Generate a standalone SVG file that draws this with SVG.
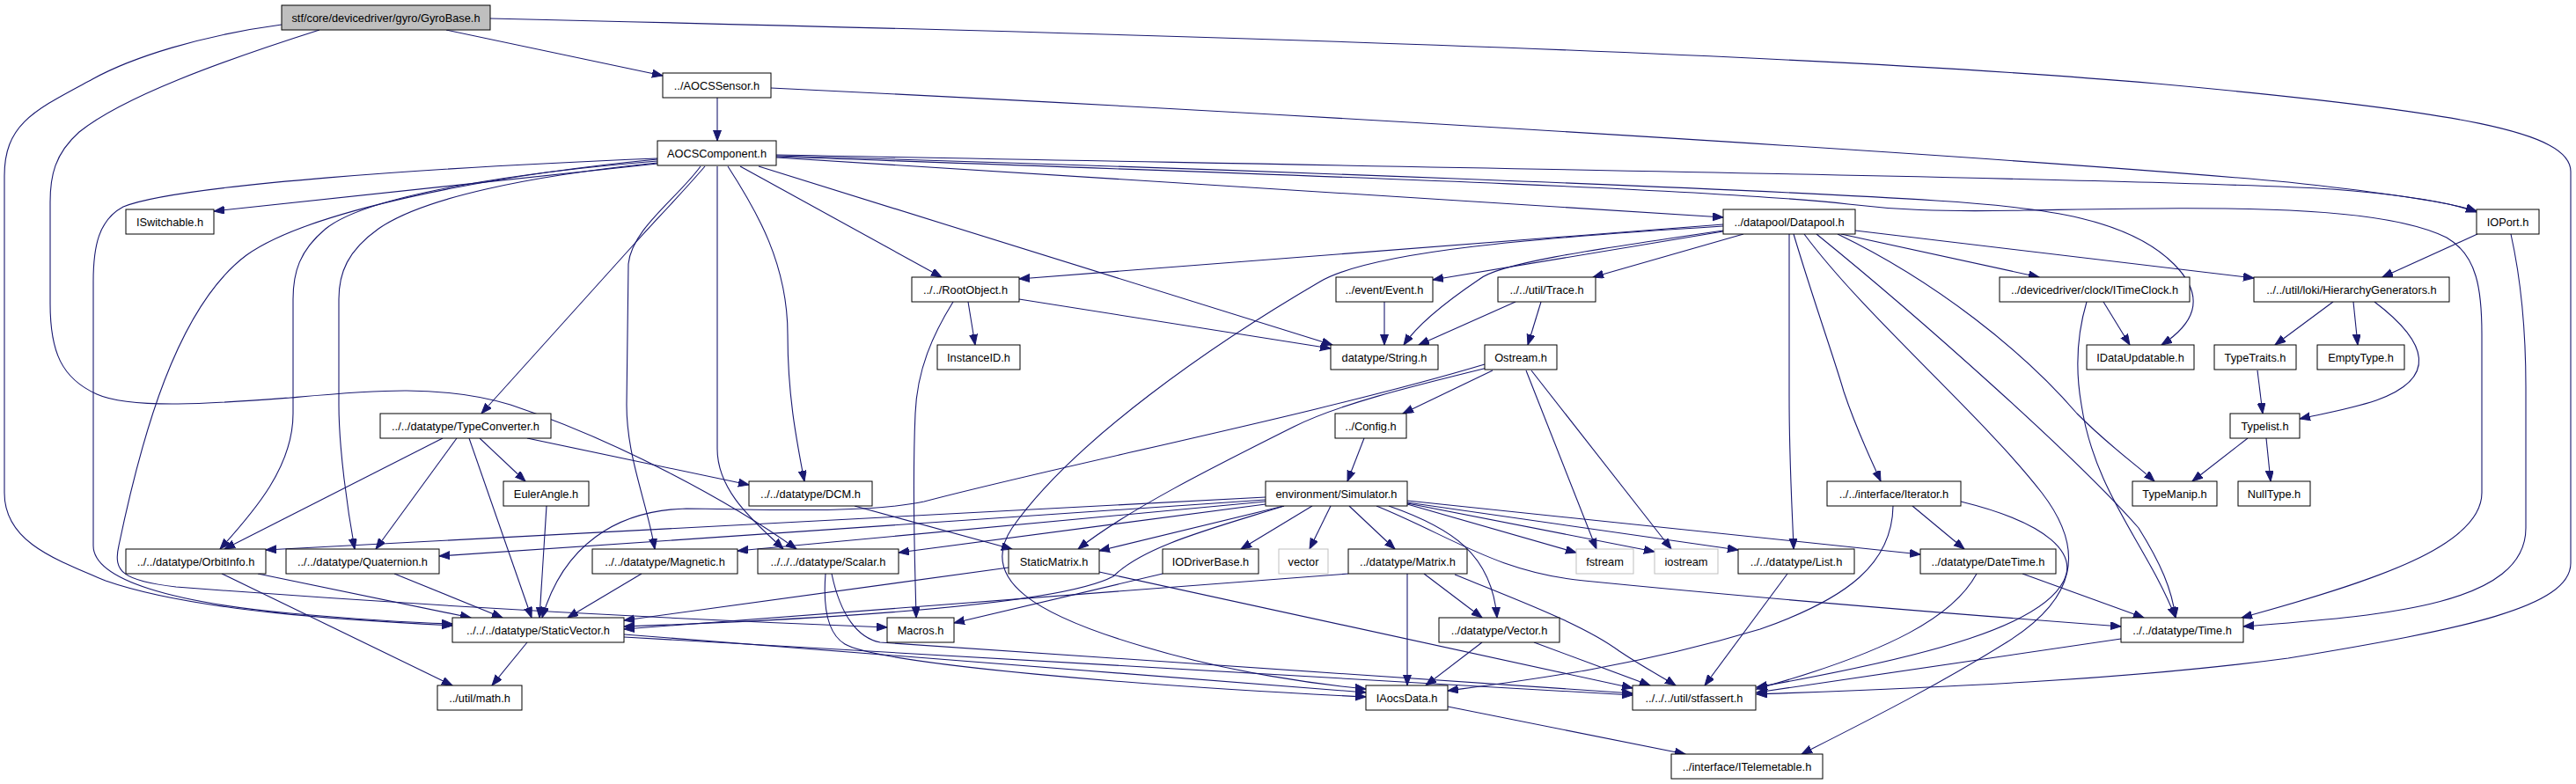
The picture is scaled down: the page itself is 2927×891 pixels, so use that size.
<svg xmlns="http://www.w3.org/2000/svg" width="2927" height="891" viewBox="0 0 2927 891">
<style>
.n{fill:#fff;stroke:#000;stroke-width:1}
.root{fill:#bfbfbf;stroke:#000;stroke-width:1}
.sys{fill:#fff;stroke:#bfbfbf;stroke-width:1}
text{font-family:"Liberation Sans",Arial,sans-serif;font-size:12.8px;fill:#000;text-anchor:middle}
#edges path{fill:none;stroke:#191970;stroke-width:1.1;marker-end:url(#a)}
</style>
<defs>
<marker id="a" markerWidth="14" markerHeight="10" refX="12" refY="4.5" orient="auto" markerUnits="userSpaceOnUse"><path d="M0,0 L12,4.5 L0,9 z" fill="#191970" stroke="#191970" stroke-width="1"/></marker>
</defs>
<rect width="2927" height="891" fill="#fff"/>
<g id="edges">
<path d="M507,34 L753,86"/>
<path d="M557,21 C1300,38 2050,60 2450,95 C2800,127 2921,150 2921,195 L2921,640 C2921,690 2800,715 2600,748 C2400,775 2150,783 1996,789"/>
<path d="M320,28 C230,40 150,65 105,90 C40,125 5,140 5,200 L5,560 C5,615 60,635 120,660 C220,695 400,705 514,711"/>
<path d="M363,34 C250,70 140,110 90,150 C62,175 57,200 57,230 L57,345 C57,400 70,430 110,448 C150,466 250,458 330,452 C420,444 500,436 580,460 C700,500 830,570 905,624"/>
<path d="M815,111 L815,160"/>
<path d="M876,100 C1500,130 2300,180 2600,207 C2720,220 2790,232 2814,240"/>
<path d="M882,179 L1958,247"/>
<path d="M882,176 C1500,188 2450,203 2650,215 C2740,222 2790,232 2814,241"/>
<path d="M882,177 C1400,192 2000,215 2200,228 C2330,236 2420,250 2470,300 C2510,340 2490,370 2456,392"/>
<path d="M882,178 C1500,200 1950,215 2100,232 C2150,238 2200,241 2300,239 C2500,236 2700,230 2780,270 C2815,290 2820,330 2820,380 L2820,560 C2820,620 2700,660 2547,702"/>
<path d="M747,186 L243,240"/>
<path d="M747,180 C500,190 200,210 140,235 C112,250 106,280 106,320 L106,620 C106,660 200,685 330,697 C420,705 480,708 514,709"/>
<path d="M747,181 C550,200 350,240 280,290 C200,350 160,500 135,620 C128,650 140,660 200,667 C500,690 800,705 1008,713"/>
<path d="M747,183 C600,195 420,220 370,260 C340,285 333,310 333,340 L333,470 C333,530 290,580 250,624"/>
<path d="M747,185 C600,200 480,225 430,260 C395,285 385,310 385,340 L385,460 C385,510 395,580 403,624"/>
<path d="M801,189 C770,225 745,250 720,278 L547,470"/>
<path d="M796,189 C770,225 718,260 714,300 L712,460 C712,520 735,570 744,624"/>
<path d="M815,189 L815,510 C815,560 860,595 890,624"/>
<path d="M827,189 C860,240 895,300 895,380 C895,450 905,500 914,547"/>
<path d="M841,189 L1070,315"/>
<path d="M862,189 L1514,392"/>
<path d="M1158,340 L1512,396"/>
<path d="M1100,343 L1108,392"/>
<path d="M1083,343 C1060,380 1042,420 1040,470 C1036,560 1040,650 1041,702"/>
<path d="M1958,255 L1158,317"/>
<path d="M1958,257 C1750,270 1560,285 1500,320 C1380,390 1220,500 1150,600 C1110,660 1180,700 1300,735 C1400,765 1500,778 1552,783"/>
<path d="M1958,262 C1800,285 1700,300 1680,318 C1640,345 1610,370 1595,392"/>
<path d="M1958,263 L1628,318"/>
<path d="M1981,266 L1810,315"/>
<path d="M2033,266 L2033,450 C2033,530 2037,590 2038,624"/>
<path d="M2038,266 C2060,340 2085,410 2095,445 C2110,490 2125,520 2137,547"/>
<path d="M2050,266 C2120,360 2250,470 2320,560 C2370,625 2360,680 2280,730 C2200,780 2120,820 2047,857"/>
<path d="M2064,266 C2180,360 2360,520 2430,600 C2455,640 2468,670 2472,702"/>
<path d="M2088,266 C2200,320 2300,400 2360,470 C2400,510 2430,530 2448,547"/>
<path d="M2092,266 L2317,315"/>
<path d="M2108,262 L2561,316"/>
<path d="M1573,343 L1573,392"/>
<path d="M1722,343 L1612,392"/>
<path d="M1751,343 L1736,392"/>
<path d="M1696,421 L1594,470"/>
<path d="M1734,421 L1814,624"/>
<path d="M1740,421 L1899,624"/>
<path d="M1690,418 C1600,440 1520,460 1470,485 C1380,530 1280,580 1225,624"/>
<path d="M1687,414 C1500,470 1200,530 1050,570 C980,585 850,578 780,578 C700,580 640,620 616,702"/>
<path d="M1550,498 L1531,547"/>
<path d="M1438,565 L302,625"/>
<path d="M1438,568 L499,632"/>
<path d="M1438,570 L838,626"/>
<path d="M1438,573 L1021,628"/>
<path d="M1459,575 L1249,626"/>
<path d="M1459,575 C1380,600 1300,620 1265,655 C1200,690 900,705 709,712"/>
<path d="M1491,575 L1410,624"/>
<path d="M1512,575 L1488,624"/>
<path d="M1533,575 L1585,624"/>
<path d="M1564,575 C1650,610 1700,650 1800,660 C2000,680 2250,700 2410,712"/>
<path d="M1578,575 C1650,600 1695,630 1701,702"/>
<path d="M1599,573 L1791,628"/>
<path d="M1599,572 L1880,627"/>
<path d="M1599,571 L1975,625"/>
<path d="M1599,569 L2182,630"/>
<path d="M503,498 L255,624"/>
<path d="M519,498 L427,624"/>
<path d="M533,498 L604,702"/>
<path d="M545,498 L597,547"/>
<path d="M599,498 L851,551"/>
<path d="M621,575 L613,702"/>
<path d="M971,575 L1150,624"/>
<path d="M293,652 L535,702"/>
<path d="M252,652 L514,779"/>
<path d="M448,652 L571,702"/>
<path d="M729,652 L645,702"/>
<path d="M599,730 L559,779"/>
<path d="M709,721 L1552,787"/>
<path d="M709,724 L1855,790"/>
<path d="M1146,645 L709,705"/>
<path d="M1249,650 L1855,782"/>
<path d="M938,652 C935,690 940,720 960,732 C1000,755 1300,780 1552,792"/>
<path d="M945,652 C955,700 975,725 1000,730 C1300,752 1600,772 1855,788"/>
<path d="M1321,652 L1084,708"/>
<path d="M1532,652 L709,715"/>
<path d="M1599,652 L1599,779"/>
<path d="M1618,652 L1684,702"/>
<path d="M1653,653 C1720,680 1800,710 1840,740 C1870,760 1890,770 1904,779"/>
<path d="M1684,730 L1620,779"/>
<path d="M1743,730 L1875,779"/>
<path d="M1645,803 L1915,857"/>
<path d="M2031,652 L1937,779"/>
<path d="M2173,575 L2232,624"/>
<path d="M2151,575 C2150,640 2100,680 2000,715 C1850,760 1720,775 1645,785"/>
<path d="M2228,570 C2330,595 2360,630 2345,660 C2320,710 2200,745 1996,781"/>
<path d="M2298,652 L2436,702"/>
<path d="M2246,652 C2220,700 2150,740 1996,783"/>
<path d="M2410,726 L1996,787"/>
<path d="M2390,343 L2420,392"/>
<path d="M2371,343 C2360,380 2358,420 2365,460 C2380,560 2440,620 2472,702"/>
<path d="M2815,266 L2707,315"/>
<path d="M2853,266 C2865,320 2870,380 2870,440 L2870,600 C2870,690 2700,700 2549,712"/>
<path d="M2651,343 L2585,392"/>
<path d="M2674,343 L2679,392"/>
<path d="M2698,343 C2760,390 2770,430 2700,455 C2670,465 2640,470 2613,476"/>
<path d="M2565,421 L2571,470"/>
<path d="M2554,498 L2491,547"/>
<path d="M2575,498 L2580,547"/>
</g>
<g id="n_GyroBase"><rect class="root" x="320" y="6" width="237" height="28"/><text x="438.5" y="24.5">stf/core/devicedriver/gyro/GyroBase.h</text></g>
<g id="n_AOCSSensor"><rect class="n" x="753" y="83" width="123" height="28"/><text x="814.5" y="101.5">../AOCSSensor.h</text></g>
<g id="n_AOCSComponent"><rect class="n" x="747" y="160" width="135" height="28"/><text x="814.5" y="178.5">AOCSComponent.h</text></g>
<g id="n_ISwitchable"><rect class="n" x="143" y="238" width="100" height="28"/><text x="193" y="256.5">ISwitchable.h</text></g>
<g id="n_Datapool"><rect class="n" x="1958" y="238" width="150" height="28"/><text x="2033" y="256.5">../datapool/Datapool.h</text></g>
<g id="n_IOPort"><rect class="n" x="2814" y="238" width="71" height="28"/><text x="2849.5" y="256.5">IOPort.h</text></g>
<g id="n_RootObject"><rect class="n" x="1036" y="315" width="122" height="28"/><text x="1097" y="333.5">../../RootObject.h</text></g>
<g id="n_Event"><rect class="n" x="1518" y="315" width="110" height="28"/><text x="1573" y="333.5">../event/Event.h</text></g>
<g id="n_Trace"><rect class="n" x="1702" y="315" width="111" height="28"/><text x="1757.5" y="333.5">../../util/Trace.h</text></g>
<g id="n_ITimeClock"><rect class="n" x="2272" y="315" width="216" height="28"/><text x="2380" y="333.5">../devicedriver/clock/ITimeClock.h</text></g>
<g id="n_HierarchyGenerators"><rect class="n" x="2561" y="315" width="222" height="28"/><text x="2672" y="333.5">../../util/loki/HierarchyGenerators.h</text></g>
<g id="n_InstanceID"><rect class="n" x="1065" y="392" width="94" height="28"/><text x="1112" y="410.5">InstanceID.h</text></g>
<g id="n_String"><rect class="n" x="1512" y="392" width="122" height="28"/><text x="1573" y="410.5">datatype/String.h</text></g>
<g id="n_Ostream"><rect class="n" x="1687" y="392" width="82" height="28"/><text x="1728" y="410.5">Ostream.h</text></g>
<g id="n_IDataUpdatable"><rect class="n" x="2371" y="392" width="122" height="28"/><text x="2432" y="410.5">IDataUpdatable.h</text></g>
<g id="n_TypeTraits"><rect class="n" x="2516" y="392" width="93" height="28"/><text x="2562.5" y="410.5">TypeTraits.h</text></g>
<g id="n_EmptyType"><rect class="n" x="2633" y="392" width="99" height="28"/><text x="2682.5" y="410.5">EmptyType.h</text></g>
<g id="n_TypeConverter"><rect class="n" x="432" y="470" width="194" height="28"/><text x="529" y="488.5">../../datatype/TypeConverter.h</text></g>
<g id="n_Config"><rect class="n" x="1517" y="470" width="81" height="28"/><text x="1557.5" y="488.5">../Config.h</text></g>
<g id="n_Typelist"><rect class="n" x="2534" y="470" width="79" height="28"/><text x="2573.5" y="488.5">Typelist.h</text></g>
<g id="n_EulerAngle"><rect class="n" x="572" y="547" width="97" height="28"/><text x="620.5" y="565.5">EulerAngle.h</text></g>
<g id="n_DCM"><rect class="n" x="851" y="547" width="140" height="28"/><text x="921" y="565.5">../../datatype/DCM.h</text></g>
<g id="n_Simulator"><rect class="n" x="1438" y="547" width="161" height="28"/><text x="1518.5" y="565.5">environment/Simulator.h</text></g>
<g id="n_Iterator"><rect class="n" x="2076" y="547" width="152" height="28"/><text x="2152" y="565.5">../../interface/Iterator.h</text></g>
<g id="n_TypeManip"><rect class="n" x="2423" y="547" width="96" height="28"/><text x="2471" y="565.5">TypeManip.h</text></g>
<g id="n_NullType"><rect class="n" x="2543" y="547" width="82" height="28"/><text x="2584" y="565.5">NullType.h</text></g>
<g id="n_OrbitInfo"><rect class="n" x="143" y="624" width="159" height="28"/><text x="222.5" y="642.5">../../datatype/OrbitInfo.h</text></g>
<g id="n_Quaternion"><rect class="n" x="325" y="624" width="174" height="28"/><text x="412" y="642.5">../../datatype/Quaternion.h</text></g>
<g id="n_Magnetic"><rect class="n" x="673" y="624" width="165" height="28"/><text x="755.5" y="642.5">../../datatype/Magnetic.h</text></g>
<g id="n_Scalar"><rect class="n" x="861" y="624" width="160" height="28"/><text x="941" y="642.5">../../../datatype/Scalar.h</text></g>
<g id="n_StaticMatrix"><rect class="n" x="1146" y="624" width="103" height="28"/><text x="1197.5" y="642.5">StaticMatrix.h</text></g>
<g id="n_IODriverBase"><rect class="n" x="1321" y="624" width="109" height="28"/><text x="1375.5" y="642.5">IODriverBase.h</text></g>
<g id="n_vector"><rect class="sys" x="1453" y="624" width="56" height="28"/><text x="1481" y="642.5">vector</text></g>
<g id="n_Matrix"><rect class="n" x="1532" y="624" width="135" height="28"/><text x="1599.5" y="642.5">../datatype/Matrix.h</text></g>
<g id="n_fstream"><rect class="sys" x="1791" y="624" width="65" height="28"/><text x="1823.5" y="642.5">fstream</text></g>
<g id="n_iostream"><rect class="sys" x="1880" y="624" width="72" height="28"/><text x="1916" y="642.5">iostream</text></g>
<g id="n_List"><rect class="n" x="1975" y="624" width="132" height="28"/><text x="2041" y="642.5">../../datatype/List.h</text></g>
<g id="n_DateTime"><rect class="n" x="2182" y="624" width="154" height="28"/><text x="2259" y="642.5">../datatype/DateTime.h</text></g>
<g id="n_StaticVector"><rect class="n" x="514" y="702" width="195" height="28"/><text x="611.5" y="720.5">../../../datatype/StaticVector.h</text></g>
<g id="n_Macros"><rect class="n" x="1008" y="702" width="76" height="28"/><text x="1046" y="720.5">Macros.h</text></g>
<g id="n_Vector"><rect class="n" x="1635" y="702" width="137" height="28"/><text x="1703.5" y="720.5">../datatype/Vector.h</text></g>
<g id="n_Time"><rect class="n" x="2410" y="702" width="139" height="28"/><text x="2479.5" y="720.5">../../datatype/Time.h</text></g>
<g id="n_math"><rect class="n" x="497" y="779" width="96" height="28"/><text x="545" y="797.5">../util/math.h</text></g>
<g id="n_IAocsData"><rect class="n" x="1552" y="779" width="93" height="28"/><text x="1598.5" y="797.5">IAocsData.h</text></g>
<g id="n_stfassert"><rect class="n" x="1855" y="779" width="140" height="28"/><text x="1925" y="797.5">../../../util/stfassert.h</text></g>
<g id="n_ITelemetable"><rect class="n" x="1899" y="857" width="172" height="28"/><text x="1985" y="875.5">../interface/ITelemetable.h</text></g>
</svg>
